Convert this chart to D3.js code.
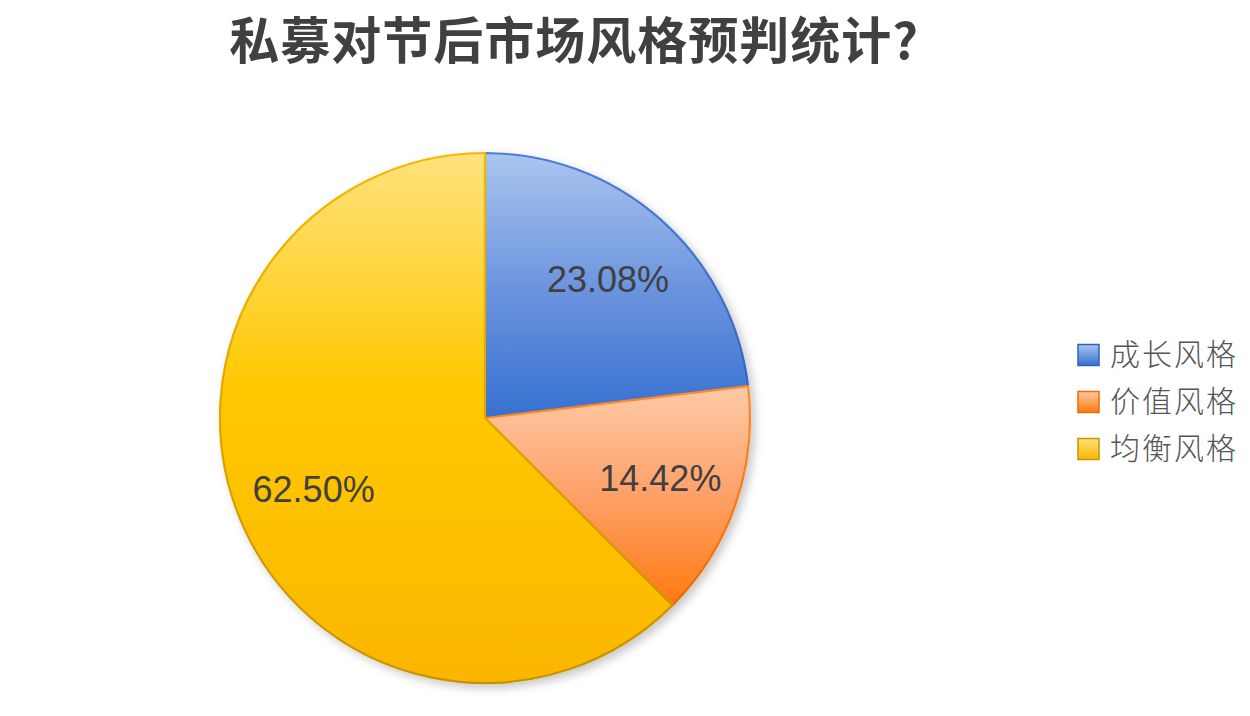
<!DOCTYPE html>
<html>
<head>
<meta charset="utf-8">
<script src="https://cdn.jsdelivr.net/npm/d3@7"></script>
<style>
  body { margin: 0; background: #fff; }
</style>
</head>
<body>
<div id="chart"></div>
<script>
// data
var categories = ["成长风格", "价值风格", "均衡风格"];
var shares = [23.08, 14.42, 62.50];
var titleText = "私募对节后市场风格预判统计?";

// gradient colours per slice: top, middle, bottom, stroke top, stroke bottom
var palettes = [
  ["#aac5ef", "#6d95df", "#3670d0", "#4a7fd8", "#2f62bd"],
  ["#fdcaa6", "#fea068", "#ff7a10", "#ff8a2a", "#f06a00"],
  ["#fee27e", "#ffc800", "#fbb600", "#f5b800", "#c49300"]
];

var W = 1250, H = 716;
var cx = 485, cy = 418, R = 265;

var svg = d3.select("#chart").append("svg")
    .attr("width", W)
    .attr("height", H);

var defs = svg.append("defs");

var shadow = defs.append("filter")
    .attr("id", "shadow")
    .attr("x", "-10%").attr("y", "-10%")
    .attr("width", "130%").attr("height", "130%");
shadow.append("feDropShadow")
    .attr("dx", 4).attr("dy", 4)
    .attr("stdDeviation", 5)
    .attr("flood-color", "#000")
    .attr("flood-opacity", 0.22);

palettes.forEach(function(p, i) {
  var g = defs.append("linearGradient")
      .attr("id", "fill" + i)
      .attr("x1", 0).attr("y1", 0).attr("x2", 0).attr("y2", 1);
  g.append("stop").attr("offset", "0%").attr("stop-color", p[0]);
  g.append("stop").attr("offset", i == 2 ? "45%" : "50%").attr("stop-color", p[1]);
  g.append("stop").attr("offset", "100%").attr("stop-color", p[2]);

  var s = defs.append("linearGradient")
      .attr("id", "stroke" + i)
      .attr("x1", 0).attr("y1", 0).attr("x2", 0).attr("y2", 1);
  s.append("stop").attr("offset", "0%").attr("stop-color", p[3]);
  s.append("stop").attr("offset", "100%").attr("stop-color", p[4]);

  // legend swatch gradient
  var l = defs.append("linearGradient")
      .attr("id", "leg" + i)
      .attr("x1", 0).attr("y1", 0).attr("x2", 0).attr("y2", 1);
  l.append("stop").attr("offset", "0%").attr("stop-color", p[0]);
  l.append("stop").attr("offset", "100%").attr("stop-color", p[2]);
});

// title
svg.append("text")
    .attr("x", 574)
    .attr("y", 59)
    .attr("text-anchor", "middle")
    .attr("font-family", "'Noto Sans CJK SC', sans-serif")
    .attr("font-weight", 700)
    .attr("font-size", 50)
    .attr("letter-spacing", 1)
    .attr("fill", "#404040")
    .text(titleText);

var pie = d3.pie().sort(null).value(function(d) { return d; });
var arcs = pie(shares);

var arc = d3.arc().innerRadius(0).outerRadius(R);
var labelArc = d3.arc().innerRadius(R * 0.7).outerRadius(R * 0.7);

var g_pie = svg.append("g")
    .attr("transform", "translate(" + cx + "," + cy + ")");

g_pie.append("g")
    .attr("filter", "url(#shadow)")
    .selectAll("path")
    .data(arcs)
    .enter().append("path")
    .attr("d", arc)
    .attr("fill", function(d, i) { return "url(#fill" + i + ")"; })
    .attr("stroke", function(d, i) { return "url(#stroke" + i + ")"; })
    .attr("stroke-width", 2.2)
    .attr("stroke-linejoin", "round");

g_pie.selectAll(".lbl")
    .data(arcs)
    .enter().append("text")
    .attr("class", "lbl")
    .attr("transform", function(d) { return "translate(" + labelArc.centroid(d) + ")"; })
    .attr("text-anchor", "middle")
    .attr("dy", "0.36em")
    .attr("font-family", "'Liberation Sans', Arial, sans-serif")
    .attr("font-size", 36)
    .attr("fill", "#404040")
    .text(function(d) { return d.data.toFixed(2) + "%"; });

// legend
var y = d3.scaleBand()
    .domain(categories)
    .range([331, 472]);

var legend = svg.append("g");

var item = legend.selectAll("g")
    .data(categories)
    .enter().append("g")
    .attr("transform", function(d) { return "translate(1078," + (y(d) + y.bandwidth() / 2) + ")"; });

item.append("rect")
    .attr("x", 0)
    .attr("y", -10)
    .attr("width", 21)
    .attr("height", 21)
    .attr("fill", function(d, i) { return "url(#leg" + i + ")"; })
    .attr("stroke", function(d, i) { return palettes[i][4]; })
    .attr("stroke-width", 1.5);

item.append("text")
    .attr("x", 32)
    .attr("dy", "0.36em")
    .attr("font-family", "'Noto Sans CJK SC', sans-serif")
    .attr("font-weight", 300)
    .attr("font-size", 30)
    .attr("letter-spacing", 2)
    .attr("fill", "#555")
    .text(function(d) { return d; });
</script>
</body>
</html>
